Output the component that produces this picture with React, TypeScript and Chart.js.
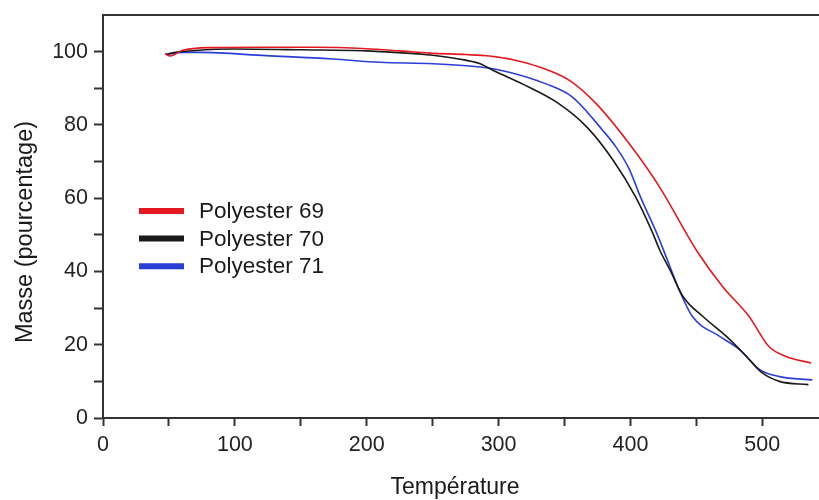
import React, { useEffect, useRef } from "react";
import { Chart, registerables } from "chart.js";

Chart.register(...registerables);

const seriesLabels = ["Polyester 69", "Polyester 70", "Polyester 71"];
const seriesColors = ["#e3191f", "#1a1a1a", "#2b3fd6"];

const temp69 = [47, 51, 60, 80, 120, 160, 200, 225, 248, 275, 293, 311, 331, 354, 374, 399, 422, 450, 470, 490, 505, 518, 537];
const mass69 = [99.4, 98.8, 100.3, 101.1, 101.2, 101.2, 100.8, 100.2, 99.6, 99.2, 98.8, 97.8, 95.8, 92.1, 85.8, 74.9, 63.1, 45.8, 35.8, 27.7, 19.5, 16.8, 15.0];

const temp70 = [48, 55, 70, 98, 150, 200, 250, 270, 285, 298, 318, 344, 367, 387, 404, 417, 422, 430, 440, 455, 473, 488, 500, 513, 535];
const mass70 = [99.3, 99.8, 100.3, 100.7, 100.5, 100.2, 99.0, 98.0, 96.8, 94.5, 91.2, 86.2, 79.4, 70.3, 60.3, 50.4, 46.0, 40.4, 33.1, 27.7, 22.2, 16.8, 12.3, 10.0, 9.1];

const temp71 = [48, 60, 73, 124, 174, 210, 250, 286, 308, 336, 356, 379, 389, 399, 408, 420, 430, 437, 447, 468, 483, 498, 513, 538];
const mass71 = [99.2, 99.8, 99.8, 98.9, 98.0, 97.1, 96.7, 95.8, 94.4, 91.2, 87.6, 78.5, 74.0, 68.0, 60.0, 50.4, 41.3, 34.9, 27.7, 22.2, 18.6, 13.2, 11.3, 10.4];

const xTicks = [0, 50, 100, 150, 200, 250, 300, 350, 400, 450, 500];
const yTicks = [0, 10, 20, 30, 40, 50, 60, 70, 80, 90, 100];
const xLabelStep = 100;
const yLabelStep = 20;
const xTitle = "Température";
const yTitle = "Masse (pourcentage)";

const FONT = "'Liberation Sans', Arial, Helvetica, sans-serif";

const frameAndLegend = {
  id: "frameAndLegend",
  afterDraw(chart: any) {
    const { ctx, chartArea } = chart;
    ctx.save();
    ctx.strokeStyle = "#333";
    ctx.lineWidth = 2;
    ctx.beginPath();
    ctx.moveTo(chartArea.left - 1, chartArea.top);
    ctx.lineTo(chartArea.right, chartArea.top);
    ctx.stroke();

    // y-axis title
    ctx.save();
    ctx.translate(26, 232);
    ctx.rotate(-Math.PI / 2);
    ctx.fillStyle = "#1a1a1a";
    ctx.font = `23.5px ${FONT}`;
    ctx.textAlign = "center";
    ctx.textBaseline = "middle";
    ctx.fillText(yTitle, 0, 0);
    ctx.restore();

    // x-axis title
    ctx.fillStyle = "#1a1a1a";
    ctx.font = `23px ${FONT}`;
    ctx.textAlign = "center";
    ctx.textBaseline = "middle";
    ctx.fillText(xTitle, 455, 488);

    const lx0 = 139, lx1 = 184, ly0 = 211, lstep = 27.6;
    chart.data.datasets.forEach((ds: any, i: number) => {
      const y = ly0 + i * lstep;
      ctx.strokeStyle = ds.borderColor;
      ctx.lineWidth = 6;
      ctx.beginPath();
      ctx.moveTo(lx0, y);
      ctx.lineTo(lx1, y);
      ctx.stroke();
      ctx.fillStyle = "#1a1a1a";
      ctx.font = `22.5px ${FONT}`;
      ctx.textBaseline = "middle";
      ctx.textAlign = "left";
      ctx.fillText(ds.label, 199, y + 1);
    });
    ctx.restore();
  },
};

function pts(t: number[], m: number[]) {
  return t.map((x, i) => ({ x, y: m[i] }));
}

export default function App() {
  const ref = useRef<HTMLCanvasElement | null>(null);
  useEffect(() => {
    if (!ref.current) return;
    const data = [pts(temp69, mass69), pts(temp70, mass70), pts(temp71, mass71)];
    const chart = new Chart(ref.current, {
      type: "line",
      data: {
        datasets: seriesLabels.map((label, i) => ({
          label,
          data: data[i],
          borderColor: seriesColors[i],
          backgroundColor: seriesColors[i],
          borderWidth: 1.6,
          pointRadius: 0,
          cubicInterpolationMode: "monotone" as const,
          fill: false,
        })),
      },
      options: {
        animation: false,
        responsive: true,
        maintainAspectRatio: false,
        layout: { padding: { top: 15, right: 0, left: 0, bottom: 0 } },
        plugins: { legend: { display: false }, tooltip: { enabled: false } },
        scales: {
          x: {
            type: "linear",
            min: 0,
            max: 543,
            afterBuildTicks: (s: any) => {
              s.ticks = xTicks.map((v) => ({ value: v }));
            },
            afterFit: (s: any) => {
              s.height = 82;
              s.paddingLeft = 0;
              s.paddingRight = 0;
            },
            grid: { drawOnChartArea: false, drawTicks: true, tickLength: 8, tickColor: "#333", tickWidth: 2 },
            border: { display: true, color: "#333", width: 2 },
            ticks: {
              autoSkip: false,
              maxRotation: 0,
              padding: 6,
              color: "#222",
              font: { family: FONT, size: 21.5 },
              callback: (v: any) => (Number(v) % xLabelStep === 0 ? String(v) : ""),
            },
            title: { display: false },
          },
          y: {
            type: "linear",
            min: 0,
            max: 110,
            afterBuildTicks: (s: any) => {
              s.ticks = yTicks.map((v) => ({ value: v }));
            },
            afterFit: (s: any) => {
              s.width = 103;
              s.paddingTop = 0;
              s.paddingBottom = 0;
            },
            grid: { drawOnChartArea: false, drawTicks: true, tickLength: 9, tickColor: "#333", tickWidth: 2 },
            border: { display: true, color: "#333", width: 2 },
            ticks: {
              autoSkip: false,
              padding: 6,
              color: "#222",
              font: { family: FONT, size: 21.5 },
              callback: (v: any) => (Number(v) % yLabelStep === 0 ? String(v) : ""),
            },
            title: { display: false },
          },
        },
      },
      plugins: [frameAndLegend],
    });
    return () => chart.destroy();
  }, []);

  return (
    <div style={{ position: "fixed", left: 0, top: 0, width: 819, height: 500, background: "#fff" }}>
      <canvas ref={ref} />
    </div>
  );
}
